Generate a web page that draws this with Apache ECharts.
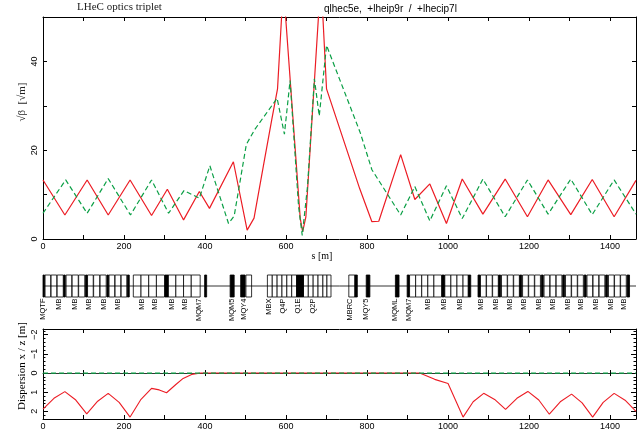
<!DOCTYPE html>
<html>
<head>
<meta charset="utf-8">
<title>LHeC optics triplet</title>
<script src="https://cdn.jsdelivr.net/npm/echarts@6/dist/echarts.min.js"></script>
<style>
html,body{margin:0;padding:0;background:#fff;}
#chart{width:638px;height:435px;}
</style>
</head>
<body>
<div id="chart"></div>
<script>
var sMax = 1464;

// sqrt(beta) x (red) and y (green), s in m
var betaXs = [0, 54, 109, 161, 215, 268, 307, 347, 386, 411, 470, 504, 521, 544, 565, 579, 589, 593, 599, 635, 641, 649, 680, 686, 691, 700, 782, 812, 829, 883, 918, 955, 996, 1035, 1086, 1141, 1196, 1247, 1303, 1356, 1410, 1464];
var betaX  = [13.3, 5.4, 13.3, 5.4, 13.3, 5.3, 11.2, 4.3, 10.7, 6.9, 17.4, 2.0, 4.7, 16.4, 27, 33.8, 50, 57, 50, 4.7, 1.6, 5, 50, 58, 50, 33.8, 11.3, 3.9, 4.0, 19.0, 8.9, 12.4, 3.5, 13.5, 5.6, 13.5, 5.0, 13.3, 5.5, 13.4, 5.0, 13.2];
var betaYs = [0, 56, 109, 161, 216, 268, 310, 348, 386, 412, 458, 472, 502, 523, 578, 596, 610, 631, 640, 653, 670, 682, 700, 783, 812, 883, 918, 955, 996, 1035, 1086, 1141, 1196, 1247, 1303, 1356, 1410, 1464];
var betaY  = [5.8, 13.3, 5.8, 13.6, 5.4, 13.3, 5.8, 10.9, 9.2, 16.5, 3.5, 5.2, 21.3, 24.7, 31.7, 23.6, 35.7, 7.3, 0.8, 11.8, 36.1, 27.7, 43.6, 24, 15.6, 5.4, 11.8, 4.1, 12.0, 4.6, 13.5, 5.0, 13.3, 5.6, 13.5, 5.5, 13.3, 5.6];

// dispersion x (red) and z (green)
var dispXs = [0, 27, 54, 81, 108, 135, 161, 188, 215, 242, 268, 287, 305, 328, 346, 367, 390, 930, 967, 1000, 1037, 1062, 1088, 1115, 1142, 1170, 1197, 1224, 1250, 1277, 1305, 1331, 1357, 1383, 1410, 1437, 1464];
var dispX  = [1.88, 1.32, 0.97, 1.41, 2.13, 1.47, 1.06, 1.53, 2.3, 1.37, 0.8, 0.88, 1.03, 0.6, 0.28, 0.07, 0, 0, 0.33, 0.55, 2.3, 1.5, 1.06, 1.38, 1.9, 1.32, 0.96, 1.41, 2.15, 1.5, 1.1, 1.56, 2.3, 1.53, 1.06, 1.42, 2.0];
var dispZs = [0, 1464];
var dispZ  = [0, 0];

// lattice: dipoles (open boxes) and quadrupoles (filled), [start, end] in m
var dipoles = [
  [5,19],[20,34],[35,50],[57,71],[72,87],[88,103],[110,124],[125,140],[141,156],[163,177],[178,192],[193,207],
  [223,242],[242,261],[261,280],[280,300],[309,328],[328,347],[347,366],[366,388],
  [501,515],
  [554,566],[566,578],[578,590],[590,602],[602,614],[614,626],[643,655],[655,667],[667,679],[679,691],[691,701],[701,711],
  [755,770],
  [905,920],[920,935],[935,950],[950,965],[965,984],[992,1007],[1007,1022],[1022,1037],[1037,1050],
  [1080,1094],[1095,1109],[1110,1124],[1132,1146],[1147,1161],[1162,1176],[1184,1198],[1199,1213],[1214,1228],
  [1237,1251],[1252,1266],[1267,1281],[1290,1304],[1305,1319],[1320,1334],[1343,1357],[1358,1372],[1373,1387],
  [1396,1410],[1411,1425],[1426,1440]
];
var quads = [
  [0,4],[51,55],[105,109],[158,162],[208,213],[301,309],[399,404],[462,472],[488,499],[626,643],[770,776],
  [798,807],[870,879],[899,904],[985,991],[1050,1056],[1074,1079],[1125,1130],[1177,1182],[1230,1235],
  [1283,1288],[1336,1341],[1389,1394],[1442,1448]
];
var latticeNames = ['MQTF','MB','MB','MB','MB','MB','MB','MB','MB','MB','MQM7','MQM5','MQY4','MBX','Q4P','Q1E','Q2P',
  'MBRC','MQY5','MQML','MQM7','MB','MB','MB','MB','MB','MB','MB','MB','MB','MB','MB','MB','MB','MB'];
var latticeNameS = [0, 40, 79, 114, 151, 186, 244, 277, 318, 351, 385, 466, 496, 559, 593, 630, 667,
  757, 798, 870, 903, 951, 990, 1029, 1081, 1117, 1152, 1188, 1224, 1259, 1295, 1329, 1366, 1403, 1435];

// ticks
var sTicks = [0, 100, 200, 300, 400, 500, 600, 700, 800, 900, 1000, 1100, 1200, 1300, 1400];
var sTickLabels = [0, 200, 400, 600, 800, 1000, 1200, 1400];
var betaTicks = [0, 10, 20, 30, 40, 50];
var betaTickLabels = [0, 20, 40];
var dispTicks = [-2, -1, 0, 1, 2];
var dispMinorTicks = [-2.2, -1.8, -1.6, -1.4, -1.2, -0.8, -0.6, -0.4, -0.2, 0.2, 0.4, 0.6, 0.8, 1.2, 1.4, 1.6, 1.8, 2.2];

var RED = '#ec1c24', GREEN = '#0a9f45';
var frame = { color: '#000', width: 1 };
var sans = 'Liberation Sans', serif = 'Liberation Serif';

function zip(a, b) {
  return a.map(function (v, i) { return [v, b[i]]; });
}

function plain(v) { return '' + v; }

function sAxis(grid, pos, labels) {
  return {
    gridIndex: grid, type: 'value', min: 0, max: sMax, position: pos,
    axisLine: { show: true, onZero: false, lineStyle: frame },
    axisTick: { show: true, inside: true, length: 4, customValues: sTicks, lineStyle: frame },
    axisLabel: { show: labels, customValues: sTickLabels, formatter: plain, margin: 3, fontSize: 9, color: '#000', fontFamily: sans },
    splitLine: { show: false }
  };
}

function minus(v) { return v < 0 ? '\u2212' + (-v) : '' + v; }

function boxRender(fill) {
  return function (params, api) {
    var a = api.coord([api.value(0), 1]);
    var b = api.coord([api.value(1), -1]);
    return {
      type: 'rect',
      shape: { x: a[0], y: a[1], width: Math.max(b[0] - a[0], 1.5), height: b[1] - a[1] },
      style: { fill: fill, stroke: '#000', lineWidth: 0.8 }
    };
  };
}

var chart = echarts.init(document.getElementById('chart'));

var option = {
  animation: false,
  backgroundColor: '#fff',
  title: [
    { text: 'LHeC optics triplet', left: 77, top: 2, padding: 0,
      textStyle: { fontFamily: serif, fontSize: 11, fontWeight: 'normal', color: '#222' } },
    { text: 'qlhec5e,  +lheip9r  /  +lhecip7l', left: 324, top: 4, padding: 0,
      textStyle: { fontFamily: sans, fontSize: 10, fontWeight: 'normal', color: '#000' } }
  ],
  graphic: [
    { type: 'text', x: 22, y: 102, rotation: Math.PI / 2,
      style: { text: '\u221A\u03B2  [\u221Am]', font: '11px "Liberation Serif"', fill: '#222', align: 'center', verticalAlign: 'middle' } },
    { type: 'text', x: 322, y: 256,
      style: { text: 's [m]', font: '10px "Liberation Serif"', fill: '#000', align: 'center', verticalAlign: 'middle' } },
    { type: 'text', x: 22, y: 366, rotation: Math.PI / 2,
      style: {
        text: '{a|Dispersion }{r|x}{a| / }{g|z}{a| [m]}', align: 'center', verticalAlign: 'middle',
        rich: {
          a: { fontFamily: serif, fontSize: 11, color: '#222' },
          r: { fontFamily: serif, fontSize: 11, color: RED },
          g: { fontFamily: serif, fontSize: 11, color: GREEN }
        }
      } }
  ],
  grid: [
    { left: 43, top: 17, width: 593, height: 222 },
    { left: 43, top: 275, width: 593, height: 22 },
    { left: 43, top: 329, width: 593, height: 90 }
  ],
  xAxis: [
    sAxis(0, 'bottom', true),
    sAxis(0, 'top', false),
    { gridIndex: 1, type: 'value', min: 0, max: sMax, show: false },
    sAxis(2, 'bottom', true),
    sAxis(2, 'top', false),
    { gridIndex: 2, type: 'value', min: 0, max: sMax, position: 'bottom',
      axisLine: { show: true, onZero: true, onZeroAxisIndex: 3, lineStyle: { color: '#000', width: 0.8 } },
      axisTick: { show: true, inside: true, length: 3, customValues: sTicks, lineStyle: frame },
      axisLabel: { show: false }, splitLine: { show: false } },
    { gridIndex: 2, type: 'value', min: 0, max: sMax, position: 'bottom',
      axisLine: { show: false, onZero: true, onZeroAxisIndex: 3 },
      axisTick: { show: true, inside: false, length: 3, customValues: sTicks, lineStyle: frame },
      axisLabel: { show: false }, splitLine: { show: false } }
  ],
  yAxis: [
    { gridIndex: 0, type: 'value', min: 0, max: 50, position: 'left',
      axisLine: { show: true, onZero: false, lineStyle: frame },
      axisTick: { show: true, inside: true, length: 4, customValues: betaTicks, lineStyle: frame },
      axisLabel: { customValues: betaTickLabels, rotate: 90, margin: 4, fontSize: 9, color: '#000', fontFamily: sans },
      splitLine: { show: false } },
    { gridIndex: 0, type: 'value', min: 0, max: 50, position: 'right',
      axisLine: { show: true, onZero: false, lineStyle: frame },
      axisTick: { show: true, inside: true, length: 4, customValues: betaTicks, lineStyle: frame },
      axisLabel: { show: false }, splitLine: { show: false } },
    { gridIndex: 1, type: 'value', min: -1, max: 1, show: false },
    { gridIndex: 2, type: 'value', min: -2.3, max: 2.4, inverse: true, position: 'left',
      axisLine: { show: true, onZero: false, lineStyle: frame },
      axisTick: { show: true, inside: true, length: 5, customValues: dispTicks, lineStyle: frame },
      axisLabel: { customValues: dispTicks, formatter: minus, rotate: 90, margin: 4, fontSize: 9, color: '#000', fontFamily: sans },
      splitLine: { show: false } },
    { gridIndex: 2, type: 'value', min: -2.3, max: 2.4, inverse: true, position: 'right',
      axisLine: { show: true, onZero: false, lineStyle: frame },
      axisTick: { show: true, inside: true, length: 5, customValues: dispTicks, lineStyle: frame },
      axisLabel: { show: false }, splitLine: { show: false } },
    { gridIndex: 2, type: 'value', min: -2.3, max: 2.4, inverse: true, position: 'left',
      axisLine: { show: false, onZero: false },
      axisTick: { show: true, inside: true, length: 2.5, customValues: dispMinorTicks, lineStyle: frame },
      axisLabel: { show: false }, splitLine: { show: false } },
    { gridIndex: 2, type: 'value', min: -2.3, max: 2.4, inverse: true, position: 'right',
      axisLine: { show: false, onZero: false },
      axisTick: { show: true, inside: true, length: 2.5, customValues: dispMinorTicks, lineStyle: frame },
      axisLabel: { show: false }, splitLine: { show: false } }
  ],
  series: [
    { name: 'beta x', type: 'line', xAxisIndex: 0, yAxisIndex: 0, data: zip(betaXs, betaX),
      showSymbol: false, lineStyle: { color: RED, width: 1.2 }, itemStyle: { color: RED } },
    { name: 'beta y', type: 'line', xAxisIndex: 0, yAxisIndex: 0, data: zip(betaYs, betaY),
      showSymbol: false, lineStyle: { color: GREEN, width: 1.2, type: [5, 3] }, itemStyle: { color: GREEN } },
    { name: 'dipoles', type: 'custom', xAxisIndex: 2, yAxisIndex: 2, data: dipoles,
      encode: { x: [0, 1] }, renderItem: boxRender('#fff') },
    { name: 'beamline', type: 'line', xAxisIndex: 2, yAxisIndex: 2, data: [[0, 0], [sMax, 0]], z: 3,
      showSymbol: false, lineStyle: { color: '#000', width: 0.8 } },
    { name: 'quads', type: 'custom', xAxisIndex: 2, yAxisIndex: 2, data: quads, z: 4,
      encode: { x: [0, 1] }, renderItem: boxRender('#000') },
    { name: 'names', type: 'custom', xAxisIndex: 2, yAxisIndex: 2,
      data: latticeNameS.map(function (s) { return [s, -1]; }),
      encode: { x: 0, y: 1 },
      renderItem: function (params, api) {
        var p = api.coord([api.value(0), -1]);
        return {
          type: 'text', x: p[0], y: p[1] + 1.5, rotation: Math.PI / 2,
          style: { text: latticeNames[params.dataIndex], align: 'right', verticalAlign: 'middle',
                   font: '7.5px "Liberation Sans"', fill: '#000' }
        };
      } },
    { name: 'Dx', type: 'line', xAxisIndex: 3, yAxisIndex: 3, data: zip(dispXs, dispX),
      showSymbol: false, lineStyle: { color: RED, width: 1.1 }, itemStyle: { color: RED } },
    { name: 'Dz', type: 'line', xAxisIndex: 3, yAxisIndex: 3, data: zip(dispZs, dispZ),
      showSymbol: false, lineStyle: { color: GREEN, width: 1.2, type: [5, 3] }, itemStyle: { color: GREEN } }
  ]
};

chart.setOption(option);
</script>
</body>
</html>
